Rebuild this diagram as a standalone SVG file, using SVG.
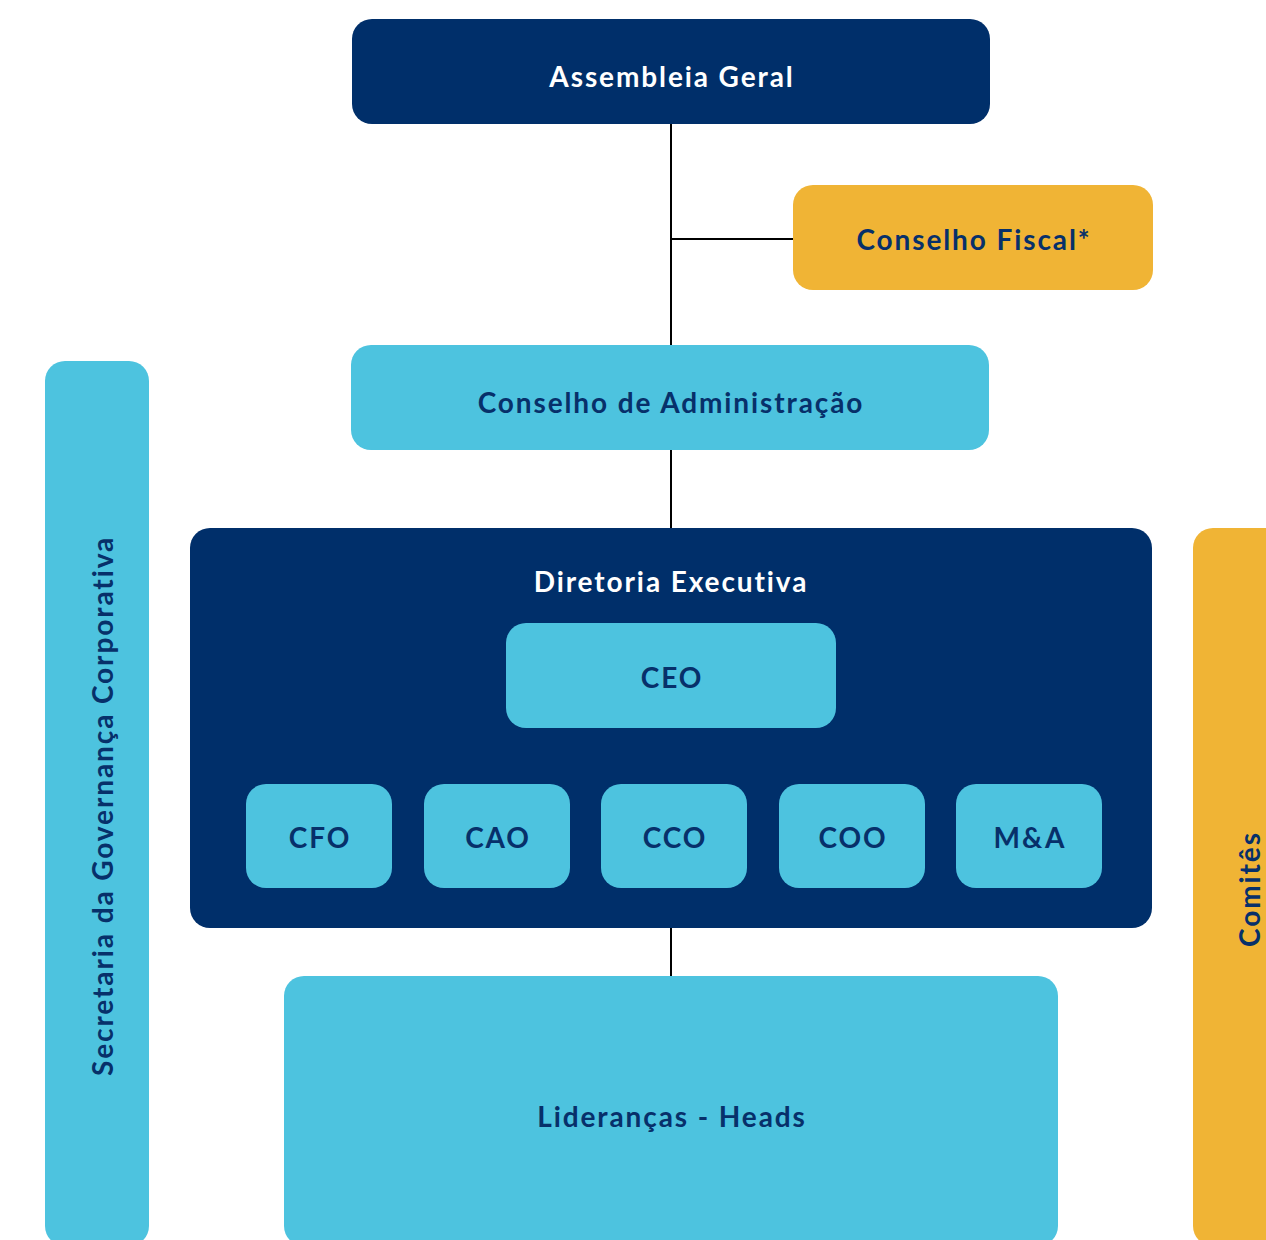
<svg xmlns="http://www.w3.org/2000/svg" width="1266" height="1240" viewBox="0 0 1266 1240">
<style>
.navy{fill:#002F6A}
.blue{fill:#4DC3DF}
.gold{fill:#F0B435}
text{font-family:"Lato","Liberation Sans",sans-serif;font-weight:700;font-size:28px;text-anchor:middle;letter-spacing:1.9px}
.w{fill:#FFFFFF}
.d{fill:#07306A}
.conn{stroke:#000;stroke-width:2;fill:none}
.conn2{stroke:#4DC3DF;stroke-width:2;fill:none}
</style>
<rect width="1266" height="1240" fill="#FFFFFF"/>
<g id="connectors">
<path class="conn" d="M671 124V345M671 239H793M671 450V528M671 928V976"/>
<path class="conn2" d="M671 728V784M319 760H1029M319 760V784M497 760V784M851 760V784M1029 760V784"/>
</g>
<g id="secretaria"><rect class="blue" x="45" y="361" width="104" height="885" rx="20"/><text class="d" transform="translate(113 806) rotate(-90)">Secretaria da Governança Corporativa</text></g>
<g id="comites"><rect class="gold" x="1193" y="528" width="100" height="718" rx="20"/><text class="d" transform="translate(1260 889) rotate(-90)">Comitês</text></g>
<g id="assembleia"><rect class="navy" x="352" y="19" width="638" height="105" rx="20"/><text class="w" x="672" y="87">Assembleia Geral</text></g>
<g id="fiscal"><rect class="gold" x="793" y="185" width="360" height="105" rx="20"/><text class="d" x="974" y="250">Conselho Fiscal*</text></g>
<g id="administracao"><rect class="blue" x="351" y="345" width="638" height="105" rx="20"/><text class="d" x="671" y="413">Conselho de Administração</text></g>
<g id="diretoria"><rect class="navy" x="190" y="528" width="962" height="400" rx="20"/><text class="w" x="671" y="592">Diretoria Executiva</text></g>
<g id="ceo"><rect class="blue" x="506" y="623" width="330" height="105" rx="20"/><text class="d" x="672" y="688">CEO</text></g>
<g id="cfo"><rect class="blue" x="246" y="784" width="146" height="104" rx="20"/><text class="d" x="320" y="848">CFO</text></g>
<g id="cao"><rect class="blue" x="424" y="784" width="146" height="104" rx="20"/><text class="d" x="498" y="848">CAO</text></g>
<g id="cco"><rect class="blue" x="601" y="784" width="146" height="104" rx="20"/><text class="d" x="675" y="848">CCO</text></g>
<g id="coo"><rect class="blue" x="779" y="784" width="146" height="104" rx="20"/><text class="d" x="853" y="848">COO</text></g>
<g id="ma"><rect class="blue" x="956" y="784" width="146" height="104" rx="20"/><text class="d" x="1030" y="848">M&amp;A</text></g>
<g id="liderancas"><rect class="blue" x="284" y="976" width="774" height="270" rx="20"/><text class="d" x="672" y="1127">Lideranças - Heads</text></g>
</svg>
